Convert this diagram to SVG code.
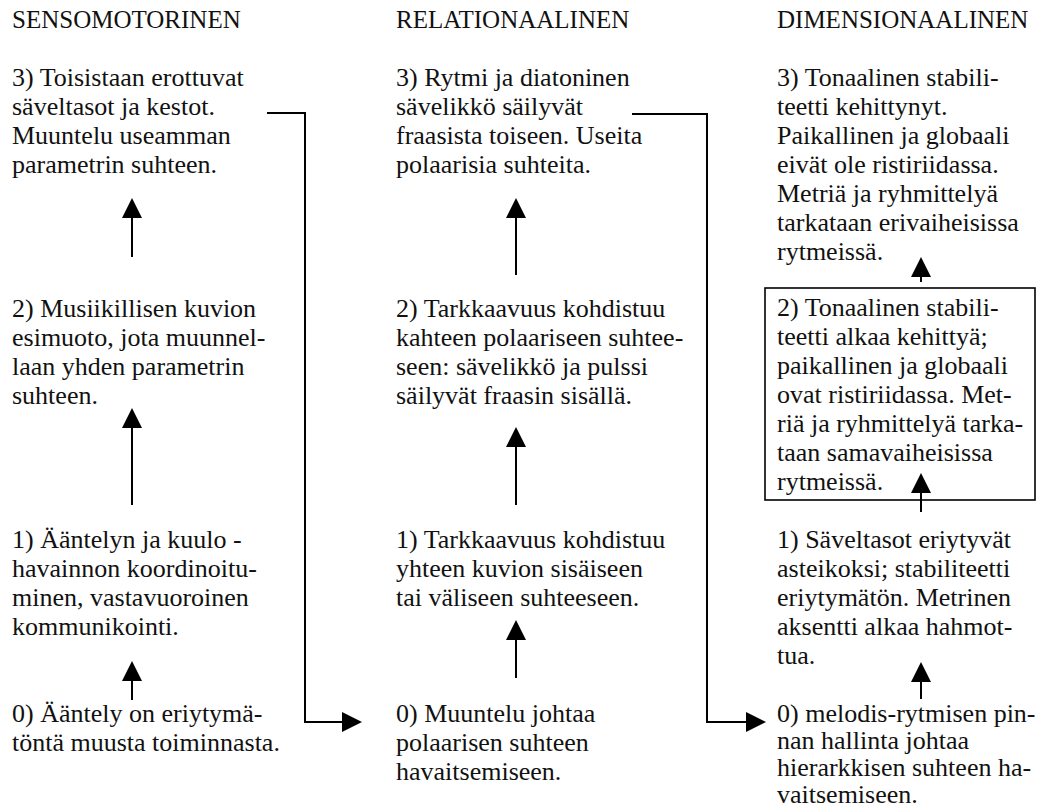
<svg xmlns="http://www.w3.org/2000/svg" width="1044" height="812" viewBox="0 0 1044 812">
<style>
  text { font-family: "Liberation Serif", "Times New Roman", serif; font-size: 26px; fill: #111; }
  .hdr { font-size: 25px; }
  .ln { stroke: #000; stroke-width: 2; fill: none; }
  .box { stroke: #000; stroke-width: 1.6; fill: none; }
</style>
<defs>
  <marker id="ah" viewBox="0 0 20 20" refX="0" refY="10" markerWidth="20" markerHeight="20" markerUnits="userSpaceOnUse" orient="auto">
    <path d="M0,0 L20,10 L0,20 Z" fill="#000"/>
  </marker>
</defs>
<rect width="1044" height="812" fill="#fff"/>

<g id="headers">
  <text class="hdr" x="12" y="28">SENSOMOTORINEN</text>
  <text class="hdr" x="396" y="28">RELATIONAALINEN</text>
  <text class="hdr" x="777" y="28">DIMENSIONAALINEN</text>
</g>

<g id="s3"><text><tspan x="12" y="86">3) Toisistaan erottuvat</tspan><tspan x="12" y="115">säveltasot ja kestot.</tspan><tspan x="12" y="144">Muuntelu useamman</tspan><tspan x="12" y="173">parametrin suhteen.</tspan></text></g>
<g id="s2"><text><tspan x="12" y="317">2) Musiikillisen kuvion</tspan><tspan x="12" y="346">esimuoto, jota muunnel-</tspan><tspan x="12" y="375">laan yhden parametrin</tspan><tspan x="12" y="404">suhteen.</tspan></text></g>
<g id="s1"><text><tspan x="12" y="548">1) Ääntelyn ja kuulo -</tspan><tspan x="12" y="577">havainnon koordinoitu-</tspan><tspan x="12" y="606">minen, vastavuoroinen</tspan><tspan x="12" y="635">kommunikointi.</tspan></text></g>
<g id="s0"><text><tspan x="12" y="722">0) Ääntely on eriytymä-</tspan><tspan x="12" y="751">töntä muusta toiminnasta.</tspan></text></g>

<g id="r3"><text><tspan x="396" y="86">3) Rytmi ja diatoninen</tspan><tspan x="396" y="115">sävelikkö säilyvät</tspan><tspan x="396" y="144">fraasista toiseen. Useita</tspan><tspan x="396" y="173">polaarisia suhteita.</tspan></text></g>
<g id="r2"><text><tspan x="396" y="317">2) Tarkkaavuus kohdistuu</tspan><tspan x="396" y="346">kahteen polaariseen suhtee-</tspan><tspan x="396" y="375">seen: sävelikkö ja pulssi</tspan><tspan x="396" y="404">säilyvät fraasin sisällä.</tspan></text></g>
<g id="r1"><text><tspan x="396" y="548">1) Tarkkaavuus kohdistuu</tspan><tspan x="396" y="577">yhteen kuvion sisäiseen</tspan><tspan x="396" y="606">tai väliseen suhteeseen.</tspan></text></g>
<g id="r0"><text><tspan x="396" y="722">0) Muuntelu johtaa</tspan><tspan x="396" y="751">polaarisen suhteen</tspan><tspan x="396" y="780">havaitsemiseen.</tspan></text></g>

<g id="d3"><text><tspan x="777" y="86">3) Tonaalinen stabili-</tspan><tspan x="777" y="115">teetti kehittynyt.</tspan><tspan x="777" y="144">Paikallinen ja globaali</tspan><tspan x="777" y="173">eivät ole ristiriidassa.</tspan><tspan x="777" y="202">Metriä ja ryhmittelyä</tspan><tspan x="777" y="231">tarkataan erivaiheisissa</tspan><tspan x="777" y="260">rytmeissä.</tspan></text></g>
<g id="d2"><rect class="box" x="765" y="288" width="270" height="212"/><text><tspan x="777" y="316">2) Tonaalinen stabili-</tspan><tspan x="777" y="345">teetti alkaa kehittyä;</tspan><tspan x="777" y="374">paikallinen ja globaali</tspan><tspan x="777" y="403">ovat ristiriidassa. Met-</tspan><tspan x="777" y="432">riä ja ryhmittelyä tarka-</tspan><tspan x="777" y="461">taan samavaiheisissa</tspan><tspan x="777" y="490">rytmeissä.</tspan></text></g>
<g id="d1"><text><tspan x="777" y="548">1) Säveltasot eriytyvät</tspan><tspan x="777" y="577">asteikoksi; stabiliteetti</tspan><tspan x="777" y="606">eriytymätön. Metrinen</tspan><tspan x="777" y="635">aksentti alkaa hahmot-</tspan><tspan x="777" y="664">tua.</tspan></text></g>
<g id="d0"><text><tspan x="777" y="722">0) melodis-rytmisen pin-</tspan><tspan x="777" y="749">nan hallinta johtaa</tspan><tspan x="777" y="776">hierarkkisen suhteen ha-</tspan><tspan x="777" y="803">vaitsemiseen.</tspan></text></g>

<g id="connectors">
  <line class="ln" x1="132" y1="257" x2="132" y2="218" marker-end="url(#ah)"/>
  <line class="ln" x1="132" y1="505" x2="132" y2="428" marker-end="url(#ah)"/>
  <line class="ln" x1="132" y1="700" x2="132" y2="681" marker-end="url(#ah)"/>
  <line class="ln" x1="516" y1="275" x2="516" y2="218" marker-end="url(#ah)"/>
  <line class="ln" x1="516" y1="505" x2="516" y2="447" marker-end="url(#ah)"/>
  <line class="ln" x1="516" y1="678" x2="516" y2="640" marker-end="url(#ah)"/>
  <line class="ln" x1="921" y1="282" x2="921" y2="277" marker-end="url(#ah)"/>
  <line class="ln" x1="921" y1="512" x2="921" y2="493" marker-end="url(#ah)"/>
  <line class="ln" x1="921" y1="699" x2="921" y2="682" marker-end="url(#ah)"/>
  <polyline class="ln" points="267,113 305,113 305,722 342,722" marker-end="url(#ah)"/>
  <polyline class="ln" points="632,114 707,114 707,722 746,722" marker-end="url(#ah)"/>
</g>
</svg>
